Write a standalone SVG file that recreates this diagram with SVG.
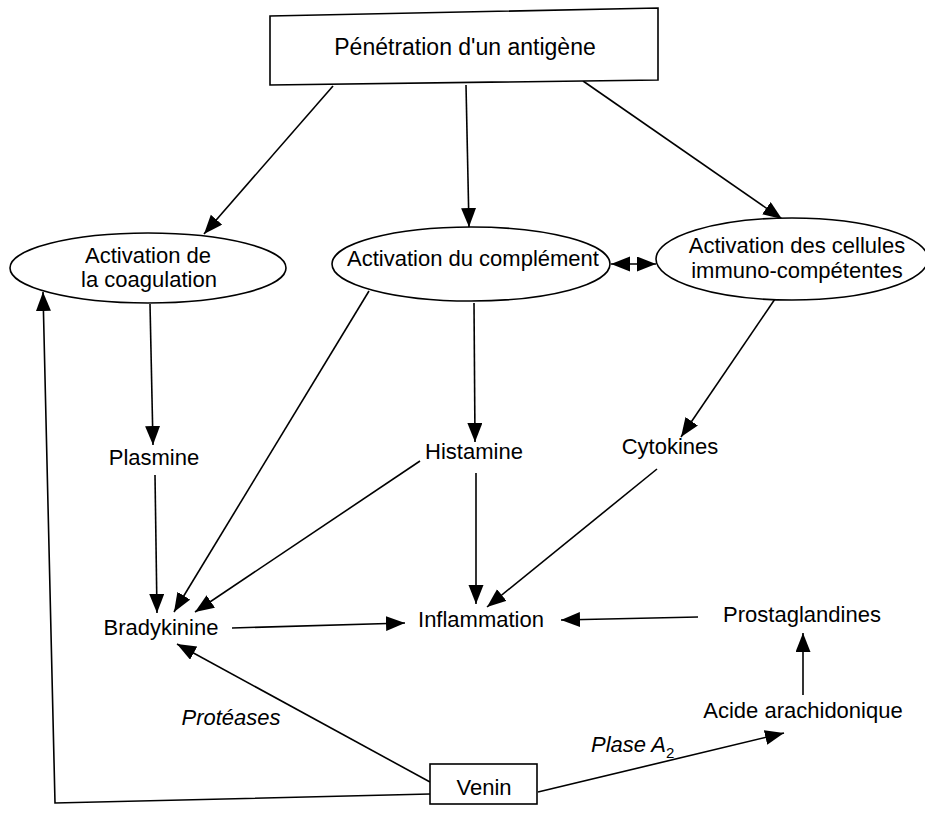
<svg xmlns="http://www.w3.org/2000/svg" width="925" height="814" viewBox="0 0 925 814">
<style>
.bg{fill:#ffffff}
.shape{fill:#ffffff;stroke:#000;stroke-width:1.6}
.t{font-family:"Liberation Sans",Arial,sans-serif;font-size:22px;fill:#000;text-anchor:middle}
.it{font-style:italic}
.c{fill:none;stroke:#000;stroke-width:1.6}
</style>
<defs>
<marker id="ah" markerUnits="userSpaceOnUse" markerWidth="20" markerHeight="16" refX="19" refY="7.5" orient="auto">
<path d="M0,0 L19,7.5 L0,15 z" fill="#000"/>
</marker>
<marker id="ahs" markerUnits="userSpaceOnUse" markerWidth="20" markerHeight="16" refX="19" refY="7.5" orient="auto-start-reverse">
<path d="M0,0 L19,7.5 L0,15 z" fill="#000"/>
</marker>
</defs>
<rect class="bg" x="0" y="0" width="925" height="814"/>

<g id="connectors">
<line class="c" x1="333" y1="86" x2="204" y2="234" marker-end="url(#ah)"/>
<line class="c" x1="466" y1="85" x2="469" y2="227" marker-end="url(#ah)"/>
<line class="c" x1="583" y1="81" x2="782" y2="219" marker-end="url(#ah)"/>
<line class="c" x1="150" y1="304" x2="153" y2="445" marker-end="url(#ah)"/>
<line class="c" x1="155" y1="475" x2="157" y2="613" marker-end="url(#ah)"/>
<line class="c" x1="369" y1="291" x2="174" y2="612" marker-end="url(#ah)"/>
<line class="c" x1="420" y1="461" x2="195" y2="612" marker-end="url(#ah)"/>
<line class="c" x1="474" y1="303" x2="475" y2="442" marker-end="url(#ah)"/>
<line class="c" x1="476" y1="473" x2="476" y2="604" marker-end="url(#ah)"/>
<line class="c" x1="775" y1="299" x2="681" y2="437" marker-end="url(#ah)"/>
<line class="c" x1="657" y1="469" x2="487" y2="607" marker-end="url(#ah)"/>
<line class="c" x1="232" y1="628" x2="405" y2="623" marker-end="url(#ah)"/>
<line class="c" x1="698" y1="617" x2="561" y2="620" marker-end="url(#ah)"/>
<line class="c" x1="803" y1="695" x2="803" y2="633" marker-end="url(#ah)"/>
<line class="c" x1="430" y1="782" x2="177" y2="644" marker-end="url(#ah)"/>
<polyline class="c" points="430,794 55,803 43,292" marker-end="url(#ah)"/>
<line class="c" x1="538" y1="792" x2="784" y2="733" marker-end="url(#ah)"/>
<line class="c" x1="611" y1="264" x2="656" y2="264" marker-start="url(#ahs)" marker-end="url(#ah)"/>
<text class="t it" x="231" y="725">Protéases</text>
<text class="t it" x="591" y="752" style="text-anchor:start">Plase A<tspan font-size="15" font-style="normal" dy="6">2</tspan></text>
</g>

<g id="antigene">
<polygon class="shape" points="270,16 658,8 658,80 270,85"/>
<text class="t" x="465" y="55" style="font-size:23px">Pénétration d'un antigène</text>
</g>

<g id="coagulation">
<ellipse class="shape" cx="148" cy="268" rx="138" ry="35"/>
<text class="t" x="148" y="263">Activation de</text>
<text class="t" x="149" y="287">la coagulation</text>
</g>

<g id="complement">
<ellipse class="shape" cx="471" cy="264" rx="139" ry="37"/>
<text class="t" x="473" y="266">Activation du complément</text>
</g>

<g id="cellules">
<ellipse class="shape" cx="792" cy="259" rx="136" ry="41"/>
<text class="t" x="797" y="253">Activation des cellules</text>
<text class="t" x="797" y="278">immuno-compétentes</text>
</g>

<g id="plasmine"><text class="t" x="154" y="465">Plasmine</text></g>
<g id="histamine"><text class="t" x="474" y="459">Histamine</text></g>
<g id="cytokines"><text class="t" x="670" y="454">Cytokines</text></g>
<g id="bradykinine"><text class="t" x="161" y="635">Bradykinine</text></g>
<g id="inflammation"><text class="t" x="481" y="627">Inflammation</text></g>
<g id="prostaglandines"><text class="t" x="802" y="622">Prostaglandines</text></g>
<g id="acide"><text class="t" x="803" y="718">Acide arachidonique</text></g>

<g id="venin">
<rect class="shape" x="430" y="764" width="107" height="40"/>
<text class="t" x="484" y="795">Venin</text>
</g>
</svg>
